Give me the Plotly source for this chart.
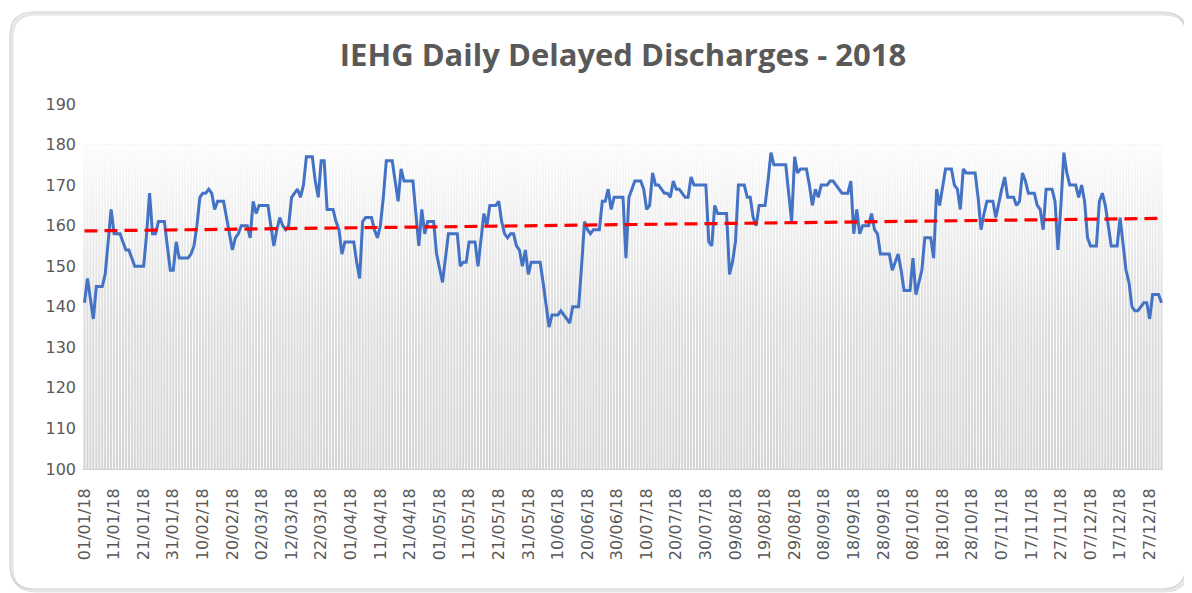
import pandas as pd
import plotly.graph_objects as go

# ---------------- data ----------------
start_date = "2018-01-01"
n_days = 365

daily_delayed = [
    141, 147, 142, 137, 145, 145, 145, 148, 156, 164,
    158, 158, 158, 156, 154, 154, 152, 150, 150, 150,
    150, 158, 168, 158, 158, 161, 161, 161, 155, 149,
    149, 156, 152, 152, 152, 152, 153, 155, 160, 167,
    168, 168, 169, 168, 164, 166, 166, 166, 162, 158,
    154, 157, 158, 160, 160, 160, 157, 166, 163, 165,
    165, 165, 165, 160, 155, 159, 162, 160, 159, 160,
    167, 168, 169, 167, 170, 177, 177, 177, 171, 167,
    176, 176, 164, 164, 164, 161, 159, 153, 156, 156,
    156, 156, 151, 147, 161, 162, 162, 162, 159, 157,
    160, 167, 176, 176, 176, 171, 166, 174, 171, 171,
    171, 171, 163, 155, 164, 158, 161, 161, 161, 153,
    149, 146, 152, 158, 158, 158, 158, 150, 151, 151,
    156, 156, 156, 150, 156, 163, 160, 165, 165, 165,
    166, 161, 158, 157, 158, 158, 155, 154, 150, 154,
    148, 151, 151, 151, 151, 146, 141, 135, 138, 138,
    138, 139, 138, 137, 136, 140, 140, 140, 150, 161,
    159, 158, 159, 159, 159, 166, 166, 169, 164, 167,
    167, 167, 167, 152, 167, 169, 171, 171, 171, 169,
    164, 165, 173, 170, 170, 169, 168, 168, 167, 171,
    169, 169, 168, 167, 167, 172, 170, 170, 170, 170,
    170, 156, 155, 165, 163, 163, 163, 163, 148, 151,
    156, 170, 170, 170, 167, 167, 162, 160, 165, 165,
    165, 171, 178, 175, 175, 175, 175, 175, 168, 161,
    177, 173, 174, 174, 174, 170, 165, 169, 167, 170,
    170, 170, 171, 171, 170, 169, 168, 168, 168, 171,
    158, 164, 158, 160, 160, 160, 163, 159, 158, 153,
    153, 153, 153, 149, 151, 153, 149, 144, 144, 144,
    152, 143, 146, 149, 157, 157, 157, 152, 169, 165,
    169, 174, 174, 174, 170, 169, 164, 174, 173, 173,
    173, 173, 167, 159, 163, 166, 166, 166, 162, 166,
    169, 172, 167, 167, 167, 165, 166, 173, 171, 168,
    168, 168, 165, 164, 159, 169, 169, 169, 166, 154,
    165, 178, 173, 170, 170, 170, 167, 170, 166, 157,
    155, 155, 155, 166, 168, 165, 160, 155, 155, 155,
    162, 155, 149, 146, 140, 139, 139, 140, 141, 141,
    137, 143, 143, 143, 141,
]

trend_endpoints = [158.7, 161.8]      # linear trendline at first / last day
band_level = 180                      # grey background column series
y_axis_range = [100, 190]
y_tick_values = [100, 110, 120, 130, 140, 150, 160, 170, 180, 190]
tick_every_days = 10

title_text = "IEHG Daily Delayed Discharges - 2018"

# ---------------- derived ----------------
dates = pd.date_range(start_date, periods=n_days, freq="D")
band_values = [band_level] * len(dates)
tick_dates = list(dates[::tick_every_days])
tick_text = [d.strftime("%d/%m/%y") for d in tick_dates]
half_day = pd.Timedelta(hours=12)
x_lo, x_hi = dates[0] - half_day, dates[-1] + half_day

GREY_TXT = "#595959"

fig = go.Figure()

# background columns
fig.add_trace(go.Bar(
    x=dates, y=band_values,
    marker=dict(color="#d4d4d4", line=dict(width=0)),
    hoverinfo="skip", showlegend=False,
))

# white gradient overlay that fades the columns toward the top
fig.add_trace(go.Scatter(
    x=[x_lo, x_hi, x_hi, x_lo, x_lo],
    y=[y_axis_range[0], y_axis_range[0], band_level, band_level, y_axis_range[0]],
    mode="lines", line=dict(width=0),
    fill="toself",
    fillgradient=dict(
        type="vertical",
        start=y_axis_range[0], stop=band_level,
        colorscale=[[0, "rgba(255,255,255,0.0)"],
                    [0.45, "rgba(255,255,255,0.2)"],
                    [1, "rgba(255,255,255,0.92)"]],
    ),
    hoverinfo="skip", showlegend=False,
))

# daily series
fig.add_trace(go.Scatter(
    x=dates, y=daily_delayed, mode="lines",
    line=dict(color="#4472C4", width=3),
    name="Delayed discharges", showlegend=False,
))

# linear trend
fig.add_trace(go.Scatter(
    x=[dates[0], dates[-1]], y=trend_endpoints, mode="lines",
    line=dict(color="#FF0000", width=3.2, dash="13px,7px"),
    name="Trend", showlegend=False,
))

# ---------------- layout ----------------
# the page body has an 8px margin, so the figure is placed at (8, 8)
OFF = 8
W_FIG, H_FIG = 1192 - OFF, 593 - OFF
PLOT_L, PLOT_T, PLOT_R, PLOT_B = 83, 104, 1163, 469   # screen pixels
L, T = PLOT_L - OFF, PLOT_T - OFF
R = W_FIG - (PLOT_R - OFF)
B = H_FIG - (PLOT_B - OFF)
PW, PH = PLOT_R - PLOT_L, PLOT_B - PLOT_T


def px(x):
    return (x - PLOT_L) / PW


def py(y):
    return (PLOT_B - y) / PH


def rounded_rect(x0, y0, x1, y1, r):
    pts = [
        f"M {px(x0 + r)},{py(y0)}",
        f"L {px(x1 - r)},{py(y0)}",
        f"Q {px(x1)},{py(y0)} {px(x1)},{py(y0 + r)}",
        f"L {px(x1)},{py(y1 - r)}",
        f"Q {px(x1)},{py(y1)} {px(x1 - r)},{py(y1)}",
        f"L {px(x0 + r)},{py(y1)}",
        f"Q {px(x0)},{py(y1)} {px(x0)},{py(y1 - r)}",
        f"L {px(x0)},{py(y0 + r)}",
        f"Q {px(x0)},{py(y0)} {px(x0 + r)},{py(y0)}",
        "Z",
    ]
    return " ".join(pts)


fig.update_layout(
    width=W_FIG, height=H_FIG,
    margin=dict(l=L, r=R, t=T, b=B, pad=0),
    paper_bgcolor="white", plot_bgcolor="white",
    bargap=0.3,
    title=dict(
        text=title_text,
        x=0.5, xref="paper", xanchor="center",
        y=1 - (55 - OFF) / H_FIG, yref="container", yanchor="middle",
        font=dict(family="Open Sans", size=31, color=GREY_TXT, weight="bold"),
    ),
    font=dict(family="DejaVu Sans", color=GREY_TXT),
    shapes=[
        dict(type="path", xref="paper", yref="paper",
             path=rounded_rect(12, 14, 1188, 591, 24),
             line=dict(color="rgba(0,0,0,0.10)", width=3), layer="below"),
        dict(type="path", xref="paper", yref="paper",
             path=rounded_rect(10, 12, 1186, 589, 24),
             line=dict(color="#d0d0d0", width=1.2), layer="below"),
    ],
)

fig.update_xaxes(
    type="date", range=[x_lo, x_hi],
    tickmode="array", tickvals=tick_dates, ticktext=tick_text,
    tickangle=-90, tickfont=dict(size=16, color=GREY_TXT, family="DejaVu Sans"),
    ticks="", ticklabelstandoff=12,
    showgrid=False, zeroline=False,
    showline=True, linecolor="#d0d0d0", linewidth=1,
)
fig.update_yaxes(
    range=y_axis_range, tickmode="array", tickvals=y_tick_values,
    tickfont=dict(size=16, color=GREY_TXT, family="DejaVu Sans"),
    ticks="", ticklabelstandoff=6,
    showgrid=False, zeroline=False, showline=False,
)

fig.write_html("out.html")
